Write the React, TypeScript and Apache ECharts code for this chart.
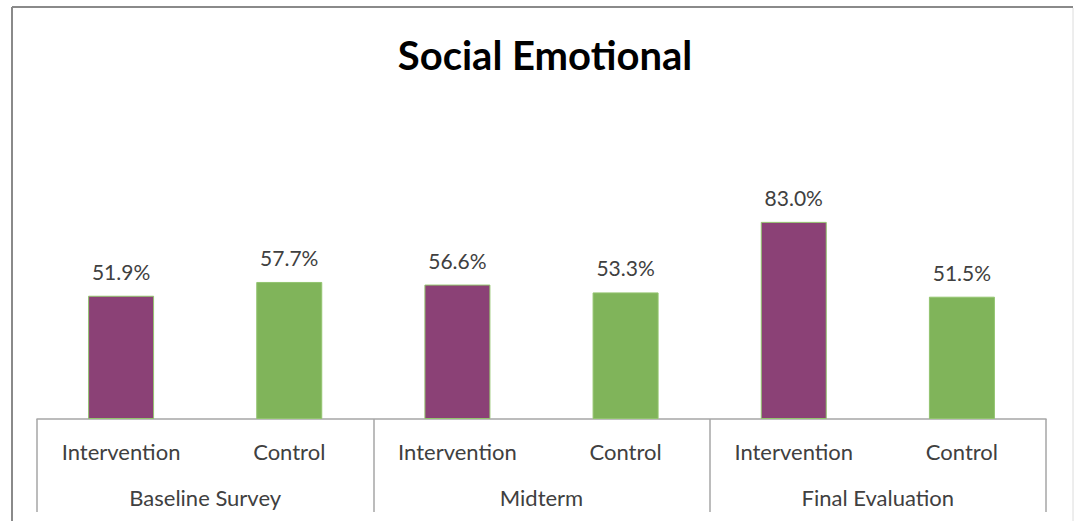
import React, { useEffect, useRef } from 'react';
import * as echarts from 'echarts';

const groups = ['Baseline Survey', 'Midterm', 'Final Evaluation'];
const categories = ['Intervention', 'Control', 'Intervention', 'Control', 'Intervention', 'Control'];
const values = [51.9, 57.7, 56.6, 53.3, 83.0, 51.5];

const PURPLE = '#8b4176';
const GREEN = '#80b45a';
const AXIS = '#a6a6a6';
const FONT = 'Lato';

export default function App() {
  const ref = useRef<HTMLDivElement>(null);
  useEffect(() => {
    document.body.style.margin = '0';
    if (!ref.current) return;
    const chart = echarts.init(ref.current, null, { renderer: 'svg' });
    chart.setOption({
      animation: false,
      backgroundColor: '#ffffff',
      title: {
        text: 'Social Emotional',
        left: 540,
        textAlign: 'center',
        top: 30,
        textStyle: { fontFamily: FONT, fontSize: 40, fontWeight: 'bold', color: '#000000' },
      },
      grid: { left: 37, right: 28, top: 181.5, bottom: 102, containLabel: false },
      xAxis: [
        {
          type: 'category',
          data: categories,
          axisLine: { lineStyle: { color: AXIS, width: 1.5 } },
          axisTick: { show: false },
          axisLabel: { fontFamily: FONT, fontSize: 22, color: '#404040', margin: 21, interval: 0 },
        },
        {
          type: 'category',
          data: groups,
          position: 'bottom',
          axisLine: { show: false },
          axisTick: { show: true, interval: 0, length: 93, lineStyle: { color: AXIS, width: 1.5 } },
          axisLabel: { fontFamily: FONT, fontSize: 22, color: '#404040', margin: 67, interval: 0 },
        },
      ],
      yAxis: { type: 'value', min: 0, max: 100, show: false, splitLine: { show: false } },
      series: [
        {
          type: 'bar',
          xAxisIndex: 0,
          barWidth: 66,
          data: values.map((v, i) => ({
            value: v,
            itemStyle: {
              color: categories[i] === 'Intervention' ? PURPLE : GREEN,
              borderColor: '#93c46f',
              borderWidth: 1,
            },
          })),
          label: {
            show: true,
            position: 'top',
            distance: 14,
            fontFamily: FONT,
            fontSize: 21,
            color: '#404040',
            formatter: (p: any) => p.value.toFixed(1) + '%',
          },
        },
      ],
      graphic: [
        { type: 'line', shape: { x1: 12, y1: 7, x2: 1073, y2: 7 }, style: { stroke: '#8a8a8a', lineWidth: 2 } },
        { type: 'line', shape: { x1: 12, y1: 7, x2: 12, y2: 521 }, style: { stroke: '#8a8a8a', lineWidth: 2 } },
        { type: 'line', shape: { x1: 1073, y1: 8, x2: 1073, y2: 521 }, style: { stroke: '#dcdcdc', lineWidth: 1 } },
      ],
    });
    return () => chart.dispose();
  }, []);
  return <div ref={ref} style={{ width: 1074, height: 521 }} />;
}
